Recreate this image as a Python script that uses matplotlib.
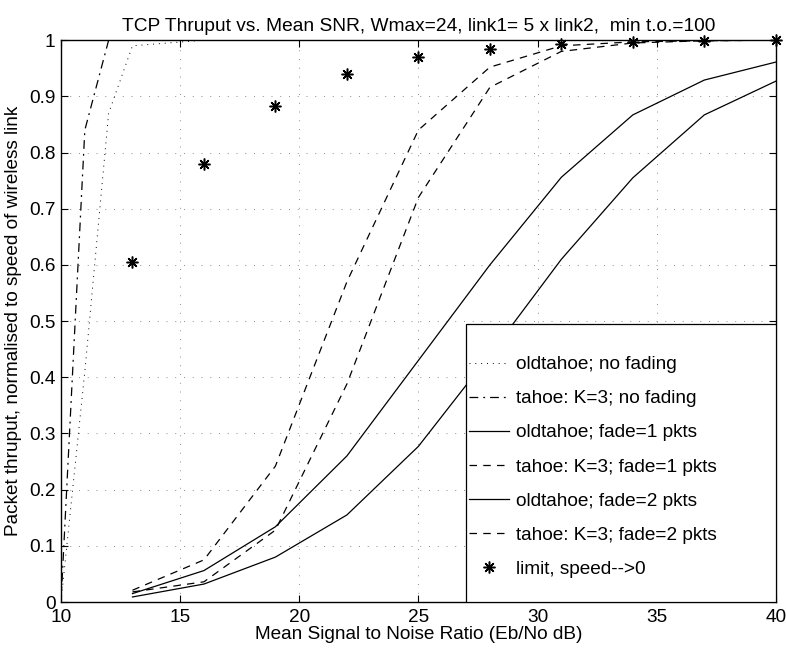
import numpy as np
import matplotlib
matplotlib.use("Agg")
import matplotlib.pyplot as plt
from matplotlib.patches import Rectangle

# SNR points (dB)
snr = [13, 16, 19, 22, 25, 28, 31, 34, 37, 40]
snr_nofade = [10, 11, 12, 13, 16, 19, 22, 25, 28, 31, 34, 37, 40]

# no fading curves
old_nofade = [0.0, 0.41, 0.87, 0.99, 1.0, 1.0, 1.0, 1.0, 1.0, 1.0, 1.0, 1.0, 1.0]
tahoe_nofade = [0.0, 0.84, 1.0, 1.0, 1.0, 1.0, 1.0, 1.0, 1.0, 1.0, 1.0, 1.0, 1.0]

# fading curves
old_fade1 = [0.015, 0.056, 0.134, 0.26, 0.43, 0.60, 0.756, 0.867, 0.929, 0.961]
tahoe_fade1 = [0.021, 0.075, 0.242, 0.57, 0.84, 0.952, 0.99, 0.997, 0.999, 1.0]
old_fade2 = [0.009, 0.032, 0.08, 0.155, 0.277, 0.44, 0.61, 0.755, 0.867, 0.927]
tahoe_fade2 = [0.018, 0.036, 0.128, 0.388, 0.72, 0.916, 0.98, 0.995, 0.999, 1.0]

# limit, speed -> 0
limit = [0.605, 0.78, 0.882, 0.94, 0.97, 0.984, 0.994, 0.997, 0.999, 1.0]

labels = ["oldtahoe; no fading", "tahoe: K=3; no fading",
          "oldtahoe; fade=1 pkts", "tahoe: K=3; fade=1 pkts",
          "oldtahoe; fade=2 pkts", "tahoe: K=3; fade=2 pkts",
          "limit, speed-->0"]

xticks = [10, 15, 20, 25, 30, 35, 40]
yticks = [0, 0.1, 0.2, 0.3, 0.4, 0.5, 0.6, 0.7, 0.8, 0.9, 1]
yticklabels = ["0", "0.1", "0.2", "0.3", "0.4", "0.5", "0.6", "0.7", "0.8", "0.9", "1"]

plt.rcParams['font.family'] = ['Liberation Sans', 'DejaVu Sans']
plt.rcParams['font.size'] = 13.7

fig = plt.figure(figsize=(7.86, 6.5), dpi=100)
ax = fig.add_axes([0.0776, 0.0738, 0.9094, 0.8644])

lw = 0.9
ax.plot(snr_nofade, old_nofade, color='k', lw=0.7, linestyle=(0, (1, 5)))
ax.plot(snr_nofade, tahoe_nofade, color='k', lw=lw, linestyle=(0, (7, 4, 1.5, 4)))
ax.plot(snr, old_fade1, color='k', lw=lw, linestyle='-')
ax.plot(snr, tahoe_fade1, color='k', lw=lw, linestyle=(0, (6, 5)))
ax.plot(snr, old_fade2, color='k', lw=lw, linestyle='-')
ax.plot(snr, tahoe_fade2, color='k', lw=lw, linestyle=(0, (6, 5)))
ax.plot(snr, limit, color='k', linestyle='none', marker=(8, 2, 0),
        markersize=8.5, mew=1.1, clip_on=False, zorder=3)

ax.set_xlim(10, 40)
ax.set_ylim(0, 1)
ax.set_xticks(xticks)
ax.set_yticks(yticks)
ax.set_yticklabels(yticklabels)
ax.grid(True, color='0.55', linestyle=(0, (1, 8)), linewidth=0.7)
ax.tick_params(direction='in', length=5, width=0.8, top=True, right=True)
ax.tick_params(axis='x', pad=5)
ax.tick_params(axis='y', pad=4)
for s in ax.spines.values():
    s.set_linewidth(1.0)

ax.set_title("TCP Thruput vs. Mean SNR, Wmax=24, link1= 5 x link2,  min t.o.=100",
             fontsize=13.8, pad=6.5)
ax.set_xlabel("Mean Signal to Noise Ratio (Eb/No dB)", labelpad=0)
ax.set_ylabel("Packet thruput, normalised to speed of wireless link", labelpad=5)

# legend box, matlab style (touches the lower right corner)
box = Rectangle((0.566, 0.0), 0.434, 0.495, transform=ax.transAxes,
                facecolor='white', edgecolor='k', linewidth=0.9, zorder=4)
ax.add_patch(box)
leg = ax.legend(labels, loc='center left', bbox_to_anchor=(0.566, 0.0, 0.434, 0.481),
                borderaxespad=0, frameon=False, handlelength=2.1,
                handletextpad=0.37, labelspacing=0.88, borderpad=0.2)
leg.set_zorder(5)

fig.savefig("out.png", dpi=100)
